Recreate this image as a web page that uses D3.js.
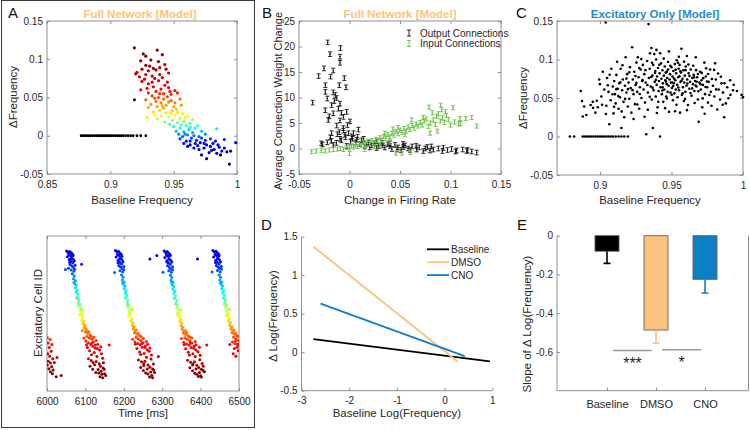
<!DOCTYPE html>
<html><head><meta charset="utf-8">
<script src="https://cdn.jsdelivr.net/npm/d3@7"></script>
<style>body{margin:0;background:#fff}svg{display:block}text{font-family:"Liberation Sans",Arial,Helvetica,sans-serif}</style>
</head><body><svg id="c" width="750" height="430"></svg>
<script>
// ---------------- DATA ----------------
// Panel A (top): baseline frequency vs Δfrequency
const aXTicks=[0.85,0.9,0.95,1];
const aYTicks=[-0.05,0,0.05,0.1,0.15];
const aSilentX=[0.877,0.8785,0.880,0.8815,0.883,0.8845,0.886,0.8875,0.889,0.8905,0.892,0.8935,0.895,0.8965,0.898,0.8995,0.901,0.9025,0.904,0.9055,0.907,0.9085,0.910,0.912,0.914,0.916,0.918,0.921,0.924,0.928];
const aOutlier=[[0.919,0.047]];
const aPts=[[0.919,0.115],[0.926,0.107],[0.928,0.104],[0.937,0.112],[0.941,0.106],[0.932,0.099],[0.924,0.098],[0.938,0.097],[0.928,0.092],[0.934,0.088],[0.943,0.093],[0.930,0.085],[0.936,0.086],[0.925,0.087],[0.921,0.083],[0.944,0.087],[0.939,0.080],[0.928,0.080],[0.933,0.078],[0.946,0.082],[0.920,0.081],[0.935,0.075],[0.941,0.076],[0.927,0.074],
[0.925,0.071],[0.930,0.068],[0.938,0.072],[0.943,0.066],[0.934,0.064],[0.929,0.062],[0.940,0.061],[0.946,0.063],[0.924,0.060],[0.936,0.058],[0.951,0.059],[0.942,0.055],[0.930,0.056],[0.953,0.056],[0.948,0.054],
[0.933,0.052],[0.938,0.050],[0.942,0.048],[0.928,0.047],[0.945,0.051],[0.936,0.045],[0.940,0.043],[0.948,0.046],[0.932,0.041],[0.944,0.040],[0.951,0.043],[0.955,0.048],[0.937,0.038],[0.942,0.036],[0.950,0.038],[0.930,0.037],[0.956,0.040],
[0.929,0.024],[0.934,0.031],[0.939,0.033],[0.944,0.030],[0.949,0.033],[0.953,0.031],[0.940,0.026],[0.946,0.025],[0.951,0.027],[0.957,0.029],[0.937,0.022],[0.955,0.023],[0.949,0.020],[0.961,0.026],[0.943,0.018],[0.953,0.017],[0.958,0.019],[0.965,0.021],[0.947,0.015],[0.963,0.016],
[0.950,0.012],[0.955,0.010],[0.960,0.013],[0.952,0.006],[0.958,0.005],[0.962,0.008],[0.967,0.010],[0.954,0.002],[0.961,0.001],[0.965,0.004],[0.972,0.006],[0.969,0.013],[0.957,-0.001],[0.984,0.009],[0.975,0.002],
[0.955,-0.004],[0.960,-0.007],[0.964,-0.003],[0.968,-0.006],[0.972,-0.003],[0.958,-0.010],[0.963,-0.012],[0.967,-0.010],[0.971,-0.009],[0.975,-0.006],[0.979,-0.004],[0.983,-0.007],[0.976,-0.012],[0.961,-0.014],[0.990,-0.005],[0.999,-0.009],
[0.966,-0.016],[0.970,-0.018],[0.974,-0.016],[0.979,-0.014],[0.982,-0.018],[0.986,-0.015],[0.978,-0.022],[0.984,-0.023],[0.988,-0.020],[0.992,-0.021],[0.995,-0.020],[0.972,-0.025],[0.976,-0.030],[0.987,-0.025],[0.994,-0.037],
[0.931,0.091],[0.939,0.089],[0.923,0.077],[0.945,0.070],[0.933,0.070],[0.939,0.055],[0.947,0.058],[0.935,0.049],[0.946,0.044],[0.941,0.039],[0.935,0.027],[0.952,0.035],[0.959,0.024],[0.948,0.029],[0.956,0.014],[0.963,0.011],[0.959,0.002],[0.966,0.000],[0.970,-0.001],[0.963,-0.007],[0.969,-0.013],[0.974,-0.010],[0.981,-0.010],[0.985,-0.012],[0.980,-0.019],[0.990,-0.016]];

// Panel A (bottom): raster, [time ms, cell id]
const rXTicks=[6000,6100,6200,6300,6400,6500];
const rEarly=[[6001,172],[6008,166],[6003,155],[6013,150],[6006,140],[6011,128],[6002,120],[6007,112],[6015,104],[6003,96],[6009,90],[6001,84],[6012,78],[6005,72],[6016,68],[6009,62],[6026,108],[6024,46],[6037,50],[6019,92],[6014,56]];
const rBurst1=[[6051,452],[6055,447],[6059,450],[6063,446],[6057,440],[6061,436],[6066,442],[6053,433],[6064,430],[6068,425],[6058,424],[6062,418],[6067,414],[6071,420],[6060,408],[6065,403],[6069,398],[6073,406],[6056,396],[6048,392],[6063,390],[6070,386],[6090,409],[6066,378],[6071,371],[6069,362],[6074,356],[6072,347],[6076,341],[6074,333],[6079,326],[6077,318],[6081,311],[6079,303],[6083,296],[6082,288],[6086,281],[6084,273],[6088,266],[6087,258],[6091,251],[6089,244],[6093,237],[6091,229],[6096,224],[6094,217],[6099,212],[6097,204],[6102,199],[6092,195],[6100,190],[6106,186],[6112,181],[6104,176],[6110,171],[6117,167],[6101,161],[6108,156],[6114,151],[6121,158],[6119,144],[6105,140],[6126,148],[6131,137],[6111,130],[6123,124],[6137,132],[6142,120],[6162,148],[6108,104],[6115,98],[6120,92],[6136,88],[6139,80],[6146,74],[6112,80],[6119,70],[6141,64],[6135,58],[6143,54],[6149,70],[6127,60],[6150,56],[6153,50],
[6098,207],[6103,194],[6109,191],[6115,177],[6122,173],[6128,163],[6118,156],[6125,139],[6132,151],[6140,143],[6116,117],[6130,111],[6145,106],[6128,95],[6133,69],[6147,91],[6124,85],[6138,46],[6145,43],[6103,149],[6096,171],[6085,247],[6093,261],[6081,281],[6077,299],[6063,427],[6068,437],[6059,415],[6072,393],[6070,350],[6076,321]];
const rBurst2=[[6178,453],[6182,448],[6186,451],[6190,445],[6184,440],[6188,437],[6193,441],[6180,432],[6191,428],[6195,423],[6185,421],[6189,415],[6194,410],[6198,417],[6187,405],[6192,399],[6196,394],[6200,402],[6176,382],[6190,388],[6197,384],[6268,426],[6286,437],[6194,374],[6198,367],[6196,358],[6201,352],[6199,344],[6203,338],[6201,330],[6206,323],[6204,315],[6208,308],[6206,300],[6211,293],[6209,285],[6213,278],[6211,270],[6216,263],[6214,255],[6218,248],[6216,240],[6221,233],[6219,226],[6224,220],[6222,212],[6227,207],[6225,200],[6230,194],[6228,188],[6234,184],[6240,179],[6232,173],[6238,168],[6245,163],[6229,158],[6236,153],[6243,149],[6250,156],[6248,141],[6234,137],[6256,145],[6261,133],[6241,126],[6253,121],[6266,128],[6272,116],[6290,111],[6238,100],[6246,94],[6252,88],[6263,84],[6268,77],[6275,71],[6244,76],[6251,66],[6270,61],[6263,55],[6273,50],[6278,68],[6257,58],[6280,60],
[6226,204],[6233,197],[6237,186],[6245,176],[6251,169],[6259,160],[6247,153],[6255,140],[6262,151],[6268,139],[6244,118],[6259,109],[6271,103],[6255,96],[6261,71],[6277,87],[6252,82],[6267,45],[6275,43],[6230,151],[6223,167],[6212,245],[6222,263],[6209,279],[6204,301],[6189,427],[6195,435],[6185,414],[6200,391],[6197,349],[6205,319]];
const rBurst3=[[6305,452],[6309,447],[6313,450],[6317,444],[6311,439],[6315,435],[6320,440],[6307,431],[6318,427],[6322,422],[6312,420],[6316,414],[6321,409],[6325,416],[6314,404],[6319,398],[6323,393],[6327,401],[6302,383],[6317,388],[6324,383],[6392,426],[6321,373],[6325,366],[6323,357],[6328,351],[6326,343],[6330,337],[6328,329],[6333,322],[6331,314],[6335,307],[6333,299],[6338,292],[6336,284],[6340,277],[6338,269],[6343,262],[6341,254],[6345,247],[6343,239],[6348,232],[6346,225],[6351,219],[6349,211],[6354,206],[6352,199],[6357,193],[6355,187],[6361,183],[6367,178],[6359,172],[6365,167],[6372,162],[6356,157],[6363,152],[6370,148],[6377,155],[6375,140],[6361,136],[6383,144],[6388,132],[6368,125],[6380,120],[6393,127],[6399,115],[6416,148],[6366,99],[6374,93],[6380,87],[6390,83],[6395,76],[6402,70],[6372,75],[6379,65],[6397,60],[6390,54],[6400,49],[6406,67],[6385,57],[6407,80],[6410,62],
[6352,206],[6360,195],[6364,189],[6372,174],[6377,171],[6386,160],[6373,155],[6382,138],[6388,149],[6397,141],[6371,116],[6386,111],[6398,101],[6384,94],[6388,71],[6404,89],[6379,84],[6394,47],[6402,45],[6357,149],[6350,169],[6339,247],[6349,261],[6335,281],[6331,299],[6318,425],[6321,437],[6312,416],[6327,391],[6324,351],[6332,321]];
const rBurst4=[[6432,453],[6436,448],[6440,451],[6444,445],[6438,440],[6442,436],[6447,441],[6434,432],[6445,428],[6449,423],[6439,421],[6443,415],[6448,410],[6452,417],[6441,405],[6446,399],[6450,394],[6454,402],[6430,384],[6444,389],[6451,384],[6448,374],[6452,367],[6450,358],[6455,352],[6453,344],[6457,338],[6455,330],[6460,323],[6458,315],[6462,308],[6460,300],[6465,293],[6463,285],[6467,278],[6465,270],[6470,263],[6468,255],[6472,248],[6470,240],[6475,233],[6473,226],[6478,220],[6476,212],[6481,207],[6479,200],[6484,194],[6482,188],[6488,184],[6494,179],[6486,173],[6492,168],[6499,163],[6483,158],[6490,153],[6497,149],[6495,141],[6488,137],[6498,130],[6476,150],[6485,120],[6492,112],
[6480,204],[6487,197],[6491,187],[6497,176],[6491,162],[6498,151],[6467,245],[6476,263],[6462,281],[6459,299],[6444,427],[6448,436],[6439,414],[6454,393],[6451,349],[6459,321]];

// Panel B: change in firing rate vs connection weight change
const bXTicks=[-0.05,0,0.05,0.1,0.15];
const bYTicks=[-5,0,5,10,15,20,25];
const bOutErr=0.45, bInErr=0.4;
const bOutput=[[-0.0216,20.8],[-0.0089,19.7],[-0.0193,18.5],[-0.0094,18.0],[-0.0094,16.8],[-0.0253,15.7],[-0.0161,15.3],[-0.0306,14.2],[-0.0187,14.1],[-0.0051,13.8],[-0.0239,12.4],[-0.0101,12.4],[-0.0035,12.0],[-0.0239,11.1],[-0.0161,11.0],[-0.0140,10.5],[-0.0219,9.8],[-0.0127,9.9],[-0.0094,8.8],[-0.0365,9.0],[-0.0177,8.5],[-0.0110,7.8],[-0.0028,7.2],[-0.0160,6.9],[-0.0210,5.6],[-0.0094,5.5],[0.0005,5.3],[-0.0060,6.2],[-0.0200,6.3],[0.0088,3.7],[-0.0061,4.0],[-0.0127,4.5],[-0.0177,3.0],[-0.0045,2.7],[0.0022,2.4],[-0.0094,1.9],[0.0071,1.7],[-0.0266,0.8],[-0.0160,0.7],[-0.0028,0.5],[0.0170,0.8],[0.0269,0.1],[0.0401,0.5],[0.0533,0.3],[0.0665,-0.2],[0.0797,-0.4],[0.0929,0.1],[0.1061,-0.4],[0.1160,-0.5],[0.1259,-0.8],
[-0.028,1.0],[-0.022,1.2],[-0.018,1.5],[-0.013,1.1],[-0.008,1.6],[-0.004,2.2],[-0.001,3.0],[0.003,1.9],[0.006,1.2],[0.010,0.9],[0.012,1.6],[0.015,0.4],[0.019,1.2],[0.022,0.6],[0.025,1.0],[0.029,0.5],[0.032,1.1],[0.035,0.2],[0.038,0.8],[0.042,-0.1],[0.045,0.7],[0.048,0.2],[0.051,-0.3],[0.055,0.6],[0.058,0.0],[0.062,0.4],[0.069,0.2],[0.073,-0.5],[0.077,0.3],[0.083,-0.2],[0.088,0.0],[0.097,-0.3],[0.101,-0.1],[0.112,-0.2],[0.121,-0.6],[-0.006,3.5],[-0.012,2.8],[-0.002,4.6],[0.004,3.0],[-0.015,9.3],[-0.008,7.0],[-0.024,7.5],
[-0.019,2.2],[-0.010,3.2],[0.001,1.3],[0.008,2.3],[0.014,1.9],[0.020,0.2],[0.027,1.4],[0.033,0.6],[0.040,1.0],[0.047,-0.2],[0.053,0.9],[0.060,-0.3],[0.066,0.5],[0.075,0.0],[0.081,0.4],[0.092,-0.5],[0.105,-0.6],[0.117,-0.3]];
const bInput=[[-0.0375,-0.6],[-0.033,-0.5],[-0.028,-0.4],[-0.024,-0.5],[-0.020,-0.3],[-0.016,-0.2],[-0.012,-0.1],[-0.009,0.0],[-0.006,-0.2],[-0.003,0.2],[0.000,0.1],[0.002,0.5],[0.004,0.3],[0.006,0.7],[0.008,0.4],[0.010,0.9],[0.012,0.6],[0.014,1.1],[0.016,0.8],[0.018,1.4],[0.020,1.0],[0.022,1.6],[0.024,1.2],[0.026,1.8],[0.028,1.5],[0.030,2.1],[0.032,1.7],[0.034,2.4],[0.036,2.0],[0.038,2.7],[0.040,2.3],[0.042,3.0],[0.044,2.6],[0.046,3.3],[0.048,2.9],[0.050,3.6],[0.052,3.2],[0.054,3.9],[0.056,3.4],[0.058,4.2],[0.060,3.7],[0.062,4.5],[0.064,4.0],[0.066,4.8],[0.068,4.4],[0.070,5.1],[0.072,4.6],[0.074,5.4],[0.048,4.1],[0.0616,5.6],[0.0797,3.0],[0.073,6.1],[0.0863,6.3],[0.0787,8.1],[0.0903,8.5],[0.1025,8.0],[0.0913,7.6],[0.1094,5.9],[0.121,6.1],[0.108,4.8],[0.126,4.4],[0.076,5.8],[0.080,5.0],[0.083,5.6],[0.085,4.7],[0.088,6.8],[0.090,5.4],[0.092,6.0],[0.094,5.1],[0.096,6.5],[0.098,5.7],[0.100,4.6],[0.104,5.2],[0.110,4.9],[0.115,5.9],[0.082,7.0],[0.095,7.2],[0.078,4.3],[0.087,3.4],[0.046,-0.9],[0.052,-0.9],[0.060,-0.8],[0.0,-1.0],[0.030,0.7],[0.040,1.3],[0.015,-0.2],[0.025,0.3],[0.035,3.0],[0.043,3.8],[0.055,2.7]];

// Panel C: excitatory only
const cXTicks=[0.9,0.95,1];
const cYTicks=[-0.05,0,0.05,0.1,0.15];
const cSilentX=[0.879,0.882,0.888,0.8895,0.891,0.8925,0.894,0.8955,0.897,0.8985,0.900,0.9015,0.903,0.9045,0.906,0.9075,0.909,0.911,0.913,0.915,0.917,0.9195];
const cPts=[[0.8866,0.059],[0.8875,0.046],[0.8890,0.039],[0.8880,0.026],[0.8905,0.028],[0.8935,0.041],[0.8950,0.045],[0.8968,0.031],[0.8985,0.038],[0.8995,0.074],[0.9000,0.068],[0.9020,0.084],[0.9010,0.052],[0.9030,0.061],[0.9040,0.148],[0.9045,0.040],[0.9050,0.076],[0.9060,0.058],[0.9066,0.016],[0.9075,0.047],[0.9080,0.088],[0.9090,0.065],[0.9095,0.030],[0.9100,0.072],[0.9105,0.055],[0.9110,0.043],[0.9115,0.080],[0.9120,0.097],[0.9125,0.062],[0.9130,0.036],[0.9135,0.069],[0.9140,0.051],[0.9145,0.088],[0.9150,0.011],[0.9155,0.060],[0.9160,0.074],[0.9165,0.045],[0.9170,0.025],[0.9175,0.066],[0.9180,0.103],[0.9185,0.057],[0.9190,0.081],[0.9195,0.039],[0.9200,0.070],
[0.9205,0.049],[0.9210,0.090],[0.9215,0.063],[0.9220,0.031],[0.9225,0.116],[0.9230,0.074],[0.9235,0.055],[0.9240,0.084],[0.9245,0.042],[0.9250,0.067],[0.9255,0.096],[0.9260,0.058],[0.9265,0.103],[0.9270,0.077],[0.9275,0.036],[0.9280,0.064],[0.9285,0.087],[0.9290,0.050],[0.9295,0.072],[0.9300,0.093],
[0.9305,0.061],[0.9310,0.081],[0.9315,0.044],[0.9320,0.070],[0.9324,0.003],[0.9330,0.098],[0.9335,0.057],[0.9340,0.146],[0.9342,0.076],[0.9348,0.088],[0.9350,0.108],[0.9355,0.065],[0.9360,0.115],[0.9362,0.048],[0.9367,0.079],[0.9370,0.011],[0.9372,0.093],[0.9375,0.060],[0.9380,0.107],[0.9383,0.071],[0.9387,0.085],[0.9390,0.052],[0.9393,0.100],[0.9397,0.067],[0.9400,0.078],[0.9403,0.038],[0.9406,0.089],[0.9410,0.059],[0.9413,0.072],[0.9417,0.082],[0.9420,0.000],[0.9423,0.064],[0.9427,0.095],[0.9430,0.075],[0.9433,0.055],[0.9437,0.086],[0.9440,0.069],[0.9443,0.045],[0.9447,0.079],[0.9450,0.061],[0.9453,0.091],[0.9457,0.073],[0.9460,0.083],[0.9463,0.052],[0.9467,0.068],[0.9470,0.076],[0.9473,0.058],[0.9477,0.087],[0.9480,0.066],[0.9483,0.032],[0.9487,0.074],[0.9490,0.081],[0.9493,0.057],[0.9497,0.070],
[0.9500,0.090],[0.9503,0.063],[0.9507,0.078],[0.9510,0.047],[0.9513,0.085],[0.9517,0.069],[0.9520,0.056],[0.9523,0.094],[0.9527,0.073],[0.9530,0.061],[0.9533,0.082],[0.9537,0.099],[0.9540,0.067],[0.9543,0.051],[0.9547,0.077],[0.9550,0.088],[0.9553,0.060],[0.9557,0.093],[0.9560,0.031],[0.9563,0.071],[0.9567,0.083],[0.9570,0.114],[0.9573,0.054],[0.9577,0.075],[0.9580,0.064],[0.9583,0.086],[0.9587,0.046],[0.9590,0.070],[0.9593,0.079],[0.9597,0.058],[0.9600,0.091],[0.9605,0.066],[0.9610,0.074],[0.9615,0.041],[0.9620,0.082],[0.9625,0.062],[0.9630,0.071],[0.9635,0.087],[0.9640,0.053],[0.9645,0.076],[0.9650,0.068],[0.9655,0.080],[0.9660,0.059],[0.9665,0.072],[0.9670,0.103],[0.9675,0.065],[0.9680,0.077],[0.9685,0.048],[0.9690,0.019],[0.9695,0.070],
[0.9700,0.084],[0.9705,0.061],[0.9710,0.073],[0.9715,0.038],[0.9720,0.067],[0.9730,0.096],[0.9735,0.055],[0.9740,0.078],[0.9750,0.064],[0.9755,0.044],[0.9760,0.071],[0.9770,0.087],[0.9775,0.058],[0.9780,0.040],[0.9790,0.066],[0.9800,0.052],[0.9805,0.095],[0.9810,0.074],[0.9820,0.035],[0.9830,0.061],[0.9840,0.048],[0.9850,0.069],[0.9860,0.057],[0.9869,0.025],[0.9880,0.043],[0.9890,0.064],[0.9910,0.073],[0.9912,0.054],[0.9930,0.060],[0.9958,0.059],[0.9990,0.054],[1.0,0.051],
[0.9128,0.0525],[0.9262,0.0415],[0.9318,0.0862],[0.9446,0.1012],[0.9391,0.0735],[0.9512,0.0655],[0.9588,0.0972],[0.9633,0.0565],[0.9672,0.0862],[0.9718,0.0495],[0.9756,0.0812],[0.9812,0.0612],[0.9845,0.0775],[0.9228,0.0602],[0.9176,0.0488],[0.9099,0.0385],[0.9042,0.0292],[0.8978,0.0465],[0.9158,0.0925],[0.9289,0.1005],[0.9364,0.0958],[0.9421,0.1082],[0.9476,0.0968],[0.9529,0.0868],[0.9571,0.0725],[0.9618,0.0935],[0.9658,0.0768],[0.9703,0.0678],[0.9742,0.0885],[0.9783,0.0746],[0.9826,0.0818],[0.9871,0.0692],[0.9898,0.0496],[0.9235,0.0228],[0.9312,0.0256],[0.9398,0.0305],[0.9455,0.0368],[0.9535,0.0412],[0.9608,0.0342],[0.9662,0.0435],[0.9732,0.0296],[0.9368,0.0632],[0.9436,0.0598],[0.9502,0.0542],[0.9548,0.0635],[0.9595,0.0488],[0.9645,0.0625],[0.9688,0.0588],[0.9765,0.0538],[0.9348,0.0515],[0.9408,0.0452],[0.9462,0.0712],[0.9518,0.0752],[0.9562,0.0846],[0.9626,0.0785],[0.9676,0.0712],[0.9722,0.0758],[0.9278,0.0552],[0.9196,0.0615],[0.9142,0.0705],[0.9088,0.0548],[0.9015,0.0412],[0.8952,0.0372],[0.9068,0.0802],[0.9152,0.0326],[0.9248,0.0785],[0.9332,0.0668],[0.9415,0.0932],[0.9492,0.0918],[0.9578,0.0562],[0.9652,0.0918],[0.9738,0.0642],[0.9798,0.0865],[0.9858,0.0412],[0.9935,0.0672],[0.9385,0.0825],[0.9468,0.0842],[0.9545,0.0958],[0.9598,0.0862],[0.9685,0.0812],[0.9468,0.0495],[0.9525,0.0328],[0.9335,0.0348],[0.9275,0.0888],[0.9205,0.0835],[0.9115,0.0615],[0.9055,0.0665],[0.9185,0.0752],[0.9255,0.0698],[0.9358,0.0772],[0.9438,0.0638],[0.9508,0.0702],[0.9556,0.0782],[0.9612,0.0688],[0.9669,0.0662],[0.9712,0.0826],[0.9748,0.0715],[0.9608,0.1045],[0.9552,0.1035],[0.9482,0.1105],[0.9395,0.1125],[0.9298,0.0732]];

// Panel D: regression lines [x, y] endpoints
const dXTicks=[-3,-2,-1,0,1];
const dYTicks=[-0.5,0,0.5,1,1.5];
const dSeries=["Baseline","DMSO","CNO"];
const dBaseline=[[-2.75,0.17],[0.95,-0.12]];
const dDMSO=[[-2.75,1.37],[0.27,-0.12]];
const dCNO=[[-2.6,0.63],[0.42,-0.05]];

// Panel E: slopes
const eCats=["Baseline","DMSO","CNO"];
const eSlope=[-0.08,-0.487,-0.225];
const eErr=[0.063,0.068,0.071];
const eYTicks=[-0.6,-0.4,-0.2,0];
const eSig=[{a:"Baseline",b:"DMSO",y:-0.592,label:"***"},{a:"DMSO",b:"CNO",y:-0.589,label:"*"}];

// ---------------- DRAW ----------------
const svg=d3.select("#c");
const FR="#8e8e8e", TX="#262626";
const ORANGE="#f9c37d", BLUE="#0f7fc3", TBLUE="#1e8bc9", GREEN="#6cbf45";
const jet=["#00008f","#0000ff","#00ffff","#ffff00","#ff0000","#800000"];
const TF=10;
let clipN=0;

function makeAxes(o){
  const x=d3.scaleLinear().domain(o.xd).range([o.l,o.r]);
  const y=d3.scaleLinear().domain(o.yd).range([o.b,o.t]);
  const g=svg.append("g");
  const fmt=d=>String(d);
  const style=sel=>{sel.select(".domain").remove();sel.selectAll("line").attr("stroke",FR);sel.selectAll("text").attr("font-size",TF).attr("fill",TX);};
  if(o.xt) g.append("g").attr("transform",`translate(0,${o.b})`).call(d3.axisBottom(x).tickValues(o.xt).tickSize(-3).tickPadding(6.5).tickFormat(fmt)).call(style);
  if(o.yt) g.append("g").attr("transform",`translate(${o.l},0)`).call(d3.axisLeft(y).tickValues(o.yt).tickSize(-3).tickPadding(4).tickFormat(fmt)).call(style);
  if(o.box){
    if(o.xt) g.append("g").attr("transform",`translate(0,${o.t})`).call(d3.axisTop(x).tickValues(o.xt).tickSize(-3).tickFormat("")).call(style);
    if(o.yt) g.append("g").attr("transform",`translate(${o.r},0)`).call(d3.axisRight(y).tickValues(o.yt).tickSize(-3).tickFormat("")).call(style);
    g.append("rect").attr("x",o.l).attr("y",o.t).attr("width",o.r-o.l).attr("height",o.b-o.t).attr("fill","none").attr("stroke",FR);
  } else {
    g.append("path").attr("d",`M${o.l},${o.t}V${o.b}H${o.r}`).attr("fill","none").attr("stroke",FR);
  }
  const id="clip"+(clipN++);
  svg.append("clipPath").attr("id",id).append("rect").attr("x",o.l).attr("y",o.t).attr("width",o.r-o.l).attr("height",o.b-o.t);
  const plot=svg.append("g");
  if(o.clip) plot.attr("clip-path",`url(#${id})`);
  if(o.xlab) svg.append("text").attr("x",(o.l+o.r)/2).attr("y",o.xlabY).attr("text-anchor","middle").attr("font-size",11.5).attr("fill",TX).text(o.xlab);
  if(o.ylab) svg.append("text").attr("transform",`translate(${o.ylabX},${o.ylabY})rotate(-90)`).attr("text-anchor","middle").attr("font-size",o.ylabF||11.5).attr("fill",TX).text(o.ylab);
  return {x,y,plot};
}
function letter(t,x,y){svg.append("text").attr("x",x).attr("y",y).attr("font-size",15).attr("fill","#111").text(t);}
function title(t,x,y,c){svg.append("text").attr("x",x).attr("y",y).attr("text-anchor","middle").attr("font-size",11.5).attr("font-weight","bold").attr("fill",c).text(t);}

// A box
svg.append("rect").attr("x",1.5).attr("y",0.5).attr("width",253).attr("height",427).attr("fill","none").attr("stroke","#3a3a3a");

// ---- A top
const A=makeAxes({l:47,r:237,t:21,b:174,xd:[0.85,1],yd:[-0.05,0.15],xt:aXTicks,yt:aYTicks,box:true,
  xlab:"Baseline Frequency",xlabY:204,ylab:"\u0394Frequency",ylabX:17,ylabY:97});
const jetA=d3.scaleLinear().domain([-0.03,-0.008,0.01,0.027,0.06,0.1]).range(jet).clamp(true);
A.plot.selectAll(".s0").data(aSilentX).join("circle").attr("cx",d=>A.x(d)).attr("cy",A.y(0)).attr("r",1.4).attr("fill","#000");
A.plot.selectAll(".s1").data(aOutlier).join("circle").attr("cx",d=>A.x(d[0])).attr("cy",d=>A.y(d[1])).attr("r",1.5).attr("fill","#000");
A.plot.selectAll(".s2").data(aPts).join("circle").attr("cx",d=>A.x(d[0])).attr("cy",d=>A.y(d[1])).attr("r",1.6).attr("fill",d=>jetA(d[1]));
letter("A",8,18);
title("Full Network [Model]",140,17.5,ORANGE);

// ---- A bottom raster
const R=makeAxes({l:47,r:239,t:236,b:391,xd:[6000,6500],yd:[0,500],xt:rXTicks,box:true,clip:true,
  xlab:"Time [ms]",xlabY:417,ylab:"Excitatory Cell ID",ylabX:42,ylabY:313});
const jetR=d3.scaleLinear().domain([60,150,240,320,420,500]).range(jet.slice().reverse()).clamp(true);
const rAll=[].concat(rEarly,rBurst1,rBurst2,rBurst3,rBurst4);
R.plot.selectAll("circle").data(rAll).join("circle").attr("cx",d=>R.x(d[0])).attr("cy",d=>R.y(d[1])).attr("r",1.5).attr("fill",d=>jetR(d[1]));

// ---- B
const B=makeAxes({l:299,r:501,t:21,b:174,xd:[-0.05,0.15],yd:[-5,25],xt:bXTicks,yt:bYTicks,box:true,
  xlab:"Change in Firing Rate",xlabY:204,ylab:"Average Connection Weight Change",ylabX:282,ylabY:101,ylabF:11});
function ebars(g,data,err,col){
  g.append("g").selectAll("path").data(data).join("path")
   .attr("d",d=>{const x=B.x(d[0]),y1=B.y(d[1]+err),y2=B.y(d[1]-err);return `M${x-2},${y1}h4M${x},${y1}V${y2}M${x-2},${y2}h4`;})
   .attr("stroke",col).attr("stroke-width",0.9).attr("fill","none");
  g.append("g").selectAll("circle").data(data).join("circle").attr("cx",d=>B.x(d[0])).attr("cy",d=>B.y(d[1])).attr("r",0.8).attr("fill",col);
}
ebars(B.plot,bOutput,bOutErr,"#111");
ebars(B.plot,bInput,bInErr,GREEN);
[["Output Connections","#111",33],["Input Connections",GREEN,43.5]].forEach(([t,c,yy])=>{
  svg.append("path").attr("d",`M407,${yy-3}h4M409,${yy-3}V${yy+3}M407,${yy+3}h4`).attr("stroke",c).attr("stroke-width",0.9).attr("fill","none");
  svg.append("text").attr("x",420).attr("y",yy+3.5).attr("font-size",10).attr("fill",TX).text(t);
});
letter("B",262,18);
title("Full Network [Model]",400,17.5,ORANGE);

// ---- C
const C=makeAxes({l:557,r:743,t:21,b:175,xd:[0.87,1],yd:[-0.05,0.15],xt:cXTicks,yt:cYTicks,box:true,
  xlab:"Baseline Frequency",xlabY:204,ylab:"\u0394Frequency",ylabX:527,ylabY:98});
C.plot.selectAll(".z").data(cSilentX).join("circle").attr("cx",d=>C.x(d)).attr("cy",C.y(0)).attr("r",1.3).attr("fill","#000");
C.plot.selectAll(".p").data(cPts).join("circle").attr("cx",d=>C.x(d[0])).attr("cy",d=>C.y(d[1])).attr("r",1.3).attr("fill","#000");
letter("C",516,18);
title("Excitatory Only [Model]",655,17.5,TBLUE);

// ---- D
const D=makeAxes({l:301.5,r:492.3,t:236.7,b:390.7,xd:[-3,1],yd:[-0.5,1.5],xt:dXTicks,yt:dYTicks,box:false,
  xlab:"Baseline Log(Frequency)",xlabY:417,ylab:"\u0394 Log(Frequency)",ylabX:277,ylabY:316});
const dCols=["#000",ORANGE,BLUE];
const line=d3.line().x(d=>D.x(d[0])).y(d=>D.y(d[1]));
[dBaseline,dDMSO,dCNO].forEach((s,i)=>D.plot.append("path").attr("d",line(s)).attr("stroke",dCols[i]).attr("stroke-width",1.8).attr("fill","none"));
dSeries.forEach((n,i)=>{
  const yy=249.3+i*12.9;
  svg.append("line").attr("x1",427).attr("x2",449).attr("y1",yy).attr("y2",yy).attr("stroke",dCols[i]).attr("stroke-width",1.8);
  svg.append("text").attr("x",451).attr("y",yy+3.5).attr("font-size",10).attr("fill",TX).text(n);
});
letter("D",261,230);

// ---- E
const ey=d3.scaleLinear().domain([-0.8,0]).range([390.7,235.7]);
const ex=d3.scalePoint().domain(eCats).range([607,705]);
const eG=svg.append("g");
eG.append("g").attr("transform","translate(557,0)").call(d3.axisLeft(ey).tickValues(eYTicks).tickSize(-3).tickPadding(4).tickFormat(d=>String(d)))
  .call(s=>{s.select(".domain").remove();s.selectAll("line").attr("stroke",FR);s.selectAll("text").attr("font-size",TF).attr("fill",TX);});
eG.append("g").attr("transform","translate(0,390.7)").call(d3.axisBottom(ex).tickSize(-3).tickPadding(9.5))
  .call(s=>{s.select(".domain").remove();s.selectAll("line").attr("stroke",FR);s.selectAll("text").attr("font-size",11).attr("fill",TX);});
eG.append("path").attr("d","M557,235.7V390.7H748.5V235.7").attr("fill","none").attr("stroke",FR);
const eCols=["#000",ORANGE,BLUE];
eCats.forEach((c,i)=>{
  eG.append("rect").attr("x",ex(c)-12).attr("width",24).attr("y",ey(0)).attr("height",ey(eSlope[i])-ey(0)).attr("fill",eCols[i]).attr("stroke","#555").attr("stroke-width",0.8);
  const x=ex(c),y1=ey(eSlope[i]),y2=ey(eSlope[i]-eErr[i]);
  eG.append("path").attr("d",`M${x},${y1}V${y2}M${x-3.5},${y2}h7`).attr("stroke",eCols[i]).attr("stroke-width",1.6).attr("fill","none");
});
eSig.forEach(s=>{
  const xa=ex(s.a)+6, xb=ex(s.b)-4;
  eG.append("line").attr("x1",xa).attr("x2",xb).attr("y1",ey(s.y)).attr("y2",ey(s.y)).attr("stroke","#999").attr("stroke-width",1.5);
  eG.append("text").attr("x",(xa+xb)/2).attr("y",ey(s.y)+18.5).attr("text-anchor","middle").attr("font-size",16).attr("fill",TX).text(s.label);
});
svg.append("text").attr("transform","translate(531,324)rotate(-90)").attr("text-anchor","middle").attr("font-size",11.5).attr("fill",TX).text("Slope of \u0394 Log(Frequency)");
letter("E",517,230);
</script></body></html>
